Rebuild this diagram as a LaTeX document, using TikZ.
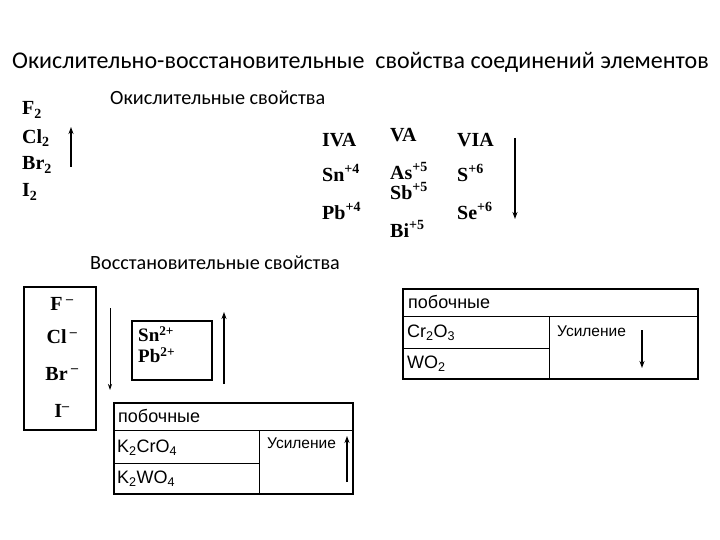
\documentclass[tikz,border=0pt]{standalone}
\usepackage{fontspec}
\setmainfont{Liberation Serif}
\newfontfamily\calfont{Carlito}
\newfontfamily\arifont{Liberation Sans}
\usetikzlibrary{arrows.meta}
\begin{document}
\begin{tikzpicture}[x=1pt,y=-1pt,
  el/.style={font=\bfseries\fontsize{20}{20}\selectfont, anchor=west, inner sep=0},
  elb/.style={font=\bfseries\fontsize{20}{20}\selectfont, inner sep=0},
  els/.style={font=\bfseries\fontsize{19}{19}\selectfont, anchor=west, inner sep=0},
  lbl/.style={font=\calfont\fontsize{20.2}{20.2}\selectfont, anchor=west, inner sep=0},
  tx/.style={font=\arifont\fontsize{18}{18}\selectfont, anchor=west, inner sep=0},
  txs/.style={font=\arifont\fontsize{15.5}{15.5}\selectfont, anchor=west, inner sep=0},
  arr/.style={-{Stealth[length=7pt,width=5pt]}, line width=1.5pt},
  arrthin/.style={-{Stealth[length=6pt,width=4pt]}, line width=0.8pt},
  frame/.style={draw, line width=2.4pt, inner sep=0},
  tframe/.style={draw, line width=2pt, inner sep=0}]
\useasboundingbox (0,0) rectangle (720,540);
% title
\node[font=\calfont\fontsize{24}{24}\selectfont, anchor=west, inner sep=0] (title) at (12,62)
  {Окислительно-восстановительные\ \ свойства соединений элементов};
% oxidising
\node[lbl] (ox) at (110,98) {Окислительные свойства};
\node[el] (f2) at (22,110) {F\textsubscript{2}};
\node[el] (cl2) at (22,138) {Cl\textsubscript{2}};
\node[el] (br2) at (22,165) {Br\textsubscript{2}};
\node[el] (i2) at (22,192) {I\textsubscript{2}};
\coordinate (a1s) at (71,167);
\coordinate (a1e) at (71,127);
\draw[arr] (a1s) -- (a1e);

\node[el] (iva) at (322,140) {IVA};
\node[el] (va) at (390,135) {VA};
\node[el] (via) at (457,140) {VIA};
\node[el] (sn4) at (322,173) {Sn\textsuperscript{+4}};
\node[el] (as5) at (390,171) {As\textsuperscript{+5}};
\node[el] (sb5) at (390,191) {Sb\textsuperscript{+5}};
\node[el] (s6) at (457,173) {S\textsuperscript{+6}};
\node[el] (pb4) at (322,211) {Pb\textsuperscript{+4}};
\node[el] (se6) at (457,211) {Se\textsuperscript{+6}};
\node[el] (bi5) at (390,229) {Bi\textsuperscript{+5}};
\coordinate (a2s) at (515,138);
\coordinate (a2e) at (515,219);
\draw[arr] (a2s) -- (a2e);

% reducing
\node[lbl] (red) at (90,263) {Восстановительные свойства};
\node[frame, minimum width=72pt, minimum height=143pt] (halbox) at (60,358.5) {};
\node[elb] (fm) at (62,304) {F\,\textsuperscript{–}};
\node[elb] (clm) at (62,337) {Cl\,\textsuperscript{–}};
\node[elb] (brm) at (62,374) {Br\,\textsuperscript{–}};
\node[elb] (im) at (62,411) {I\textsuperscript{–}};
\coordinate (a3s) at (110,308);
\coordinate (a3e) at (110,390);
\draw[arrthin] (a3s) -- (a3e);

\node[frame, minimum width=80pt, minimum height=59pt] (snbox) at (172,350.5) {};
\node[els] (sn2) at (138,334) {Sn\textsuperscript{2+}};
\node[els] (pb2) at (138,355) {Pb\textsuperscript{2+}};
\coordinate (a4s) at (224,384);
\coordinate (a4e) at (224,312);
\draw[arr] (a4s) -- (a4e);

% lower table
\node[tframe, minimum width=239pt, minimum height=91pt, anchor=north west] (t1) at (113,402) {};
\draw[line width=1pt] (113,430) -- (352,430);
\draw[line width=1pt] (113,463) -- (259,463);
\draw[line width=1pt] (259,430) -- (259,493);
\node[tx] (pob1) at (118,416) {побочные};
\node[tx] (k2cr) at (117,448) {K\textsubscript{2}CrO\textsubscript{4}};
\node[tx] (k2w) at (117,479) {K\textsubscript{2}WO\textsubscript{4}};
\node[txs] (us1) at (267,443) {Усиление};
\coordinate (a5s) at (347,482);
\coordinate (a5e) at (347,436);
\draw[arr, line width=1.2pt] (a5s) -- (a5e);

% upper right table
\node[tframe, minimum width=295pt, minimum height=90pt, anchor=north west] (t2) at (402,288) {};
\draw[line width=1pt] (402,316) -- (697,316);
\draw[line width=1pt] (402,348) -- (549,348);
\draw[line width=1pt] (549,316) -- (549,378);
\node[tx] (pob2) at (408,302) {побочные};
\node[tx] (cr2o3) at (407,333) {Cr\textsubscript{2}O\textsubscript{3}};
\node[tx] (wo2) at (407,364) {WO\textsubscript{2}};
\node[txs] (us2) at (557,331) {Усиление};
\coordinate (a6s) at (642,330);
\coordinate (a6e) at (642,368);
\draw[arr, line width=1.2pt] (a6s) -- (a6e);
\end{tikzpicture}
\end{document}
